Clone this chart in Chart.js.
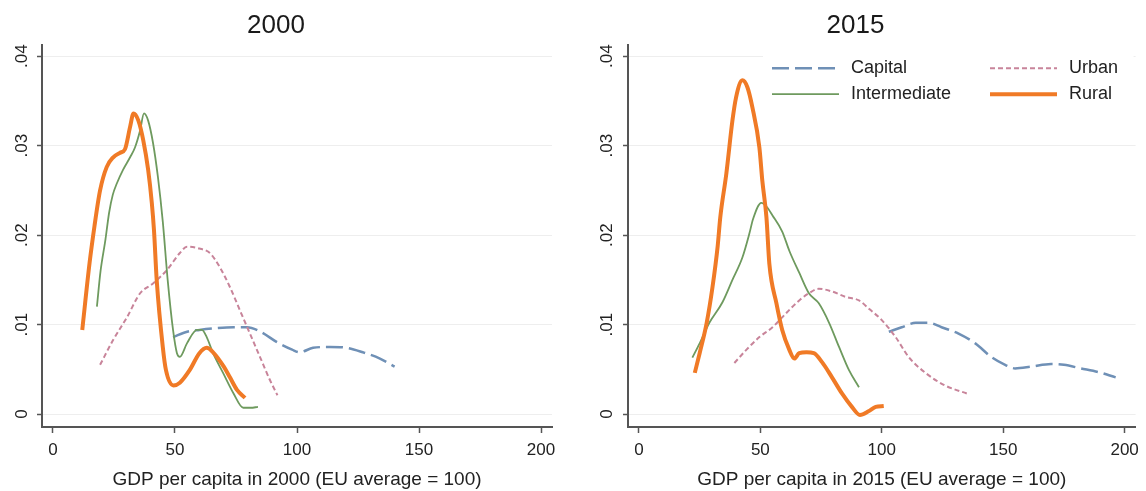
<!DOCTYPE html>
<html><head><meta charset="utf-8">
<script src="https://cdn.jsdelivr.net/npm/chart.js@4.4.1/dist/chart.umd.min.js"></script>
<style>
html,body{margin:0;padding:0;background:#fff;width:1146px;height:491px;overflow:hidden}
.panel{position:absolute;top:0;width:573px;height:491px}
canvas{display:block}
</style></head><body>
<div class="panel" style="left:0"><canvas id="c2000" width="573" height="491"></canvas></div>
<div class="panel" style="left:573px"><canvas id="c2015" width="573" height="491"></canvas></div>
<script>
// ---------- data ----------
const seriesNames = ['Capital', 'Urban', 'Intermediate', 'Rural'];
const panelTitles = ['2000', '2015'];
const axisTitles = ['GDP per capita in 2000 (EU average = 100)', 'GDP per capita in 2015 (EU average = 100)'];
const xTickValues = [0, 50, 100, 150, 200];
const xTickLabels = ['0', '50', '100', '150', '200'];
const yTickValues = [0, 0.01, 0.02, 0.03, 0.04];
const yTickLabels = ['0', '.01', '.02', '.03', '.04'];

// [GDP per capita, density]
const capital2000 = [[49.2,.0086],[55,.0092],[60,.0094],[67,.0096],[74,.0097],[79.5,.0097],[85,.0092],[92,.0080],[98,.0072],[101,.0069],[106.6,.0074],[113.5,.0075],[120.5,.0074],[127,.0069],[134,.0062],[140,.0053]];
const urban2000 = [[19.3,.0055],[24.7,.0083],[30.3,.0108],[35.7,.0135],[41,.0146],[46.7,.0161],[52,.0180],[54.9,.0187],[60,.0185],[64.3,.0180],[68.4,.0164],[72.5,.0142],[76.6,.0116],[80.7,.0090],[84.8,.0064],[88.9,.0038],[92,.0021]];
const intermediate2000 = [[18,.0120],[19.5,.0160],[21.5,.0195],[23,.0225],[24.5,.0245],[26.2,.0258],[28.7,.0273],[31.6,.0287],[33.6,.0298],[35.7,.0317],[37.3,.0336],[39,.0328],[41,.0303],[43,.0265],[45,.0215],[47,.0150],[49.2,.0094],[50.8,.0068],[52,.0064],[54.9,.0079],[59,.0094],[61,.0094],[63,.0086],[65.6,.0068],[69.7,.0046],[74,.0023],[78,.0007],[81,.0007],[84,.0008]];
const rural2000 = [[12,.0094],[15,.0169],[17,.0210],[19.3,.0250],[22,.0276],[24.7,.0287],[27.5,.0292],[29.5,.0296],[31.6,.0321],[33,.0336],[35,.0328],[37,.0306],[39,.0273],[40.5,.0236],[41.4,.0205],[42.5,.0150],[45,.0075],[46.3,.0049],[49.4,.0032],[52,.0035],[56,.0049],[60,.0068],[63,.0074],[65.6,.0069],[70,.0053],[72.5,.0041],[75.4,.0027],[78.7,.0018]];

const capital2015 = [[102.9,.0092],[108.2,.0097],[114,.0102],[119.3,.0102],[124.6,.0097],[131.6,.0090],[138.5,.0079],[145,.0064],[150.8,.0055],[154.9,.0051],[161.5,.0053],[169.7,.0056],[175,.0055],[182,.0051],[189,.0047],[196.3,.0041]];
const urban2015 = [[39.3,.0057],[44.3,.0072],[49.6,.0086],[55,.0097],[60.7,.0113],[66,.0127],[70,.0135],[74,.0140],[79.5,.0137],[85,.0131],[90.6,.0127],[95,.0117],[100,.0105],[105.7,.0086],[111,.0064],[118,.0046],[126,.0032],[135,.0023]];
const intermediate2015 = [[22,.0063],[25,.0079],[29,.0102],[34.4,.0125],[38.5,.0150],[42.6,.0175],[45.5,.0202],[47,.0218],[50.4,.0236],[52.5,.0232],[55,.0222],[59,.0204],[62,.0182],[66,.0158],[70,.0135],[74,.0124],[78.3,.0102],[82.4,.0075],[86.5,.0049],[90.6,.0030]];
const rural2015 = [[23,.0046],[25,.0068],[27.9,.0102],[30.3,.0142],[32.4,.0187],[33.5,.0220],[36,.0269],[38.5,.0328],[40,.0354],[42.6,.0373],[44.7,.0365],[46.7,.0343],[49.6,.0298],[50.8,.0261],[52.5,.0220],[53.7,.0168],[56.6,.0124],[59,.0094],[61.9,.0072],[64,.0062],[66,.0068],[69,.0069],[72,.0068],[75.4,.0058],[79.5,.0041],[83.6,.0023],[87.7,.0008],[91,-.0001],[94.5,.0003],[97.5,.0008],[100.8,.0009]];

// ---------- styles ----------
const FONT = '"Liberation Sans", Arial, Helvetica, sans-serif';
const seriesStyle = {
  Capital:      {color: '#6f90b6', dash: [17, 6], width: 2.5, order: 3},
  Urban:        {color: '#c8849a', dash: [5, 3],  width: 2,   order: 2},
  Intermediate: {color: '#6e9a5e', dash: [],      width: 1.8, order: 1},
  Rural:        {color: '#f07a26', dash: [],      width: 4,   order: 0}
};

const stataLegend = {
  id: 'stataLegend',
  afterDraw(chart, args, opts) {
    if (!opts || !opts.show) return;
    const ctx = chart.ctx, ca = chart.chartArea;
    ctx.save();
    ctx.fillStyle = '#ffffff';
    ctx.fillRect(ca.left + opts.boxLeft, ca.top + 2, ca.right - ca.left - opts.boxLeft - 2, opts.boxHeight);
    opts.order.forEach((name, k) => {
      const ds = chart.data.datasets.find(d => d.label === name);
      const col = k % 2, row = Math.floor(k / 2);
      const x0 = ca.left + opts.colX[col], y = ca.top + opts.rowY[row];
      ctx.strokeStyle = ds.borderColor;
      ctx.lineWidth = ds.borderWidth;
      ctx.setLineDash(ds.borderDash || []);
      ctx.beginPath(); ctx.moveTo(x0, y); ctx.lineTo(x0 + opts.lineLen, y); ctx.stroke();
      ctx.setLineDash([]);
      ctx.fillStyle = '#222';
      ctx.font = opts.fontSize + 'px ' + FONT;
      ctx.textBaseline = 'middle';
      ctx.textAlign = 'left';
      ctx.fillText(ds.label, x0 + opts.lineLen + opts.gap, y);
    });
    ctx.restore();
  }
};

function makeChart(id, title, axisTitle, series, g) {
  const datasets = seriesNames.map((name, i) => ({
    label: name,
    data: series[i].map(p => ({x: p[0], y: p[1]})),
    borderColor: seriesStyle[name].color,
    borderDash: seriesStyle[name].dash,
    borderWidth: seriesStyle[name].width,
    order: seriesStyle[name].order,
    pointRadius: 0,
    fill: false,
    cubicInterpolationMode: 'monotone',
    borderCapStyle: 'butt',
    borderJoinStyle: 'round'
  }));
  return new Chart(document.getElementById(id), {
    type: 'line',
    data: {datasets},
    plugins: [stataLegend],
    options: {
      responsive: false, animation: false, devicePixelRatio: 1,
      layout: {padding: {left: 0, right: g.padRight, top: 0, bottom: 0}},
      plugins: {
        legend: {display: false},
        tooltip: {enabled: false},
        title: {display: true, text: title, color: '#1a1a1a',
                font: {family: FONT, size: 26, weight: 'normal'}, padding: {top: 10, bottom: 4}},
        stataLegend: g.legend
      },
      scales: {
        x: {
          type: 'linear', min: -4.5, max: 204.5,
          afterBuildTicks: s => { s.ticks = xTickValues.map(v => ({value: v})); },
          afterFit: s => { s.height = 64; },
          grid: {drawOnChartArea: false, drawTicks: true, tickLength: 6, tickColor: '#555', tickWidth: 1.5},
          border: {display: true, color: '#555', width: 2},
          ticks: {color: '#222', font: {family: FONT, size: 17}, padding: 7, maxRotation: 0, autoSkip: false,
                  callback: (v, i) => xTickLabels[i]},
          title: {display: true, text: axisTitle, color: '#222', font: {family: FONT, size: 19},
                  padding: {top: 0, bottom: 0}}
        },
        y: {
          type: 'linear', min: -0.00145, max: 0.04123,
          afterBuildTicks: s => { s.ticks = yTickValues.map(v => ({value: v})); },
          afterFit: s => { s.width = g.yWidth; },
          grid: {color: '#eeeeee', lineWidth: 1, drawTicks: true, tickLength: 5, tickColor: '#555', tickWidth: 1.5},
          border: {display: true, color: '#555', width: 2},
          ticks: {color: '#222', font: {family: FONT, size: 17}, padding: g.yLabelPad,
                  minRotation: 90, maxRotation: 90, crossAlign: 'center', autoSkip: false,
                  callback: (v, i) => yTickLabels[i]}
        }
      }
    }
  });
}

makeChart('c2000', panelTitles[0], axisTitles[0],
  [capital2000, urban2000, intermediate2000, rural2000],
  {padRight: 21, yWidth: 42, yLabelPad: 3, legend: {show: false}});

makeChart('c2015', panelTitles[1], axisTitles[1],
  [capital2015, urban2015, intermediate2015, rural2015],
  {padRight: 8, yWidth: 55, yLabelPad: 4,
   legend: {show: true, order: ['Capital', 'Urban', 'Intermediate', 'Rural'], fontSize: 18,
            boxLeft: 135, boxHeight: 66, colX: [144, 362], rowY: [23, 49], lineLen: 67, gap: 12}});
</script>
</body></html>
